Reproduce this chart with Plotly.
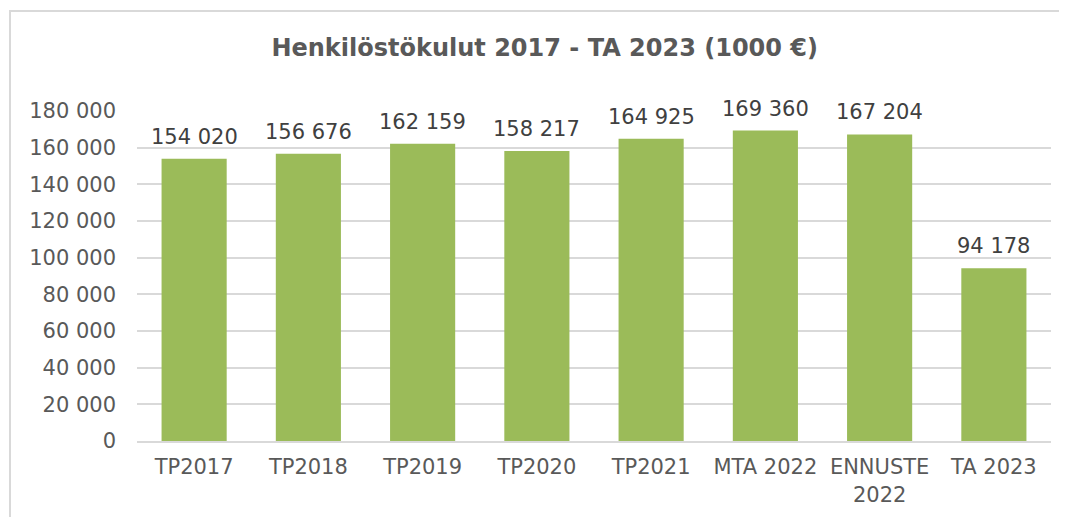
import plotly.graph_objects as go

categories = ["TP2017", "TP2018", "TP2019", "TP2020", "TP2021", "MTA 2022", "ENNUSTE<br>2022", "TA 2023"]
values = [154020, 156676, 162159, 158217, 164925, 169360, 167204, 94178]
tick_vals = [0, 20000, 40000, 60000, 80000, 100000, 120000, 140000, 160000, 180000]
tick_text = [f"{v:,}".replace(",", " ") for v in tick_vals]
label_text = [f"{v:,}".replace(",", " ") for v in values]

FONT = "DejaVu Sans, Verdana, sans-serif"
GRAY = "#595959"

fig = go.Figure(go.Bar(
    x=categories, y=values,
    marker=dict(color="#9BBB59", line=dict(width=0)),
))

annotations = [
    dict(x=c, y=v, text=t, xref="x", yref="y", showarrow=False,
         yanchor="bottom", xanchor="center", yshift=8,
         font=dict(family=FONT, size=21, color="#404040"))
    for c, v, t in zip(categories, values, label_text)
]

fig.update_layout(
    width=1067, height=517,
    margin=dict(l=129, r=24, t=103, b=84),
    paper_bgcolor="white", plot_bgcolor="white",
    bargap=0.43,
    showlegend=False,
    title=dict(text="<b>Henkilöstökulut 2017 - TA 2023 (1000 €)</b>",
               font=dict(family=FONT, size=24, color=GRAY),
               x=0.503, xanchor="center", y=0.923, yanchor="middle"),
    xaxis=dict(tickfont=dict(family=FONT, size=21, color=GRAY),
               showline=True, linecolor="#D9D9D9", linewidth=2,
               ticks="", showgrid=False, ticklabelstandoff=6),
    yaxis=dict(range=[0, 180000], tickvals=tick_vals, ticktext=tick_text,
               tickfont=dict(family=FONT, size=21, color=GRAY),
               showgrid=True, gridcolor="#D9D9D9", gridwidth=2,
               zeroline=False, showline=False, ticks="", ticklabelstandoff=20),
    annotations=annotations,
    shapes=[dict(type="rect", xref="paper", yref="paper",
                 x0=-127/914, x1=1.05, y0=-0.5, y1=1 + 100/330,
                 line=dict(color="#D9D9D9", width=2), fillcolor="rgba(0,0,0,0)",
                 layer="below")],
)

fig.write_html("out.html")
